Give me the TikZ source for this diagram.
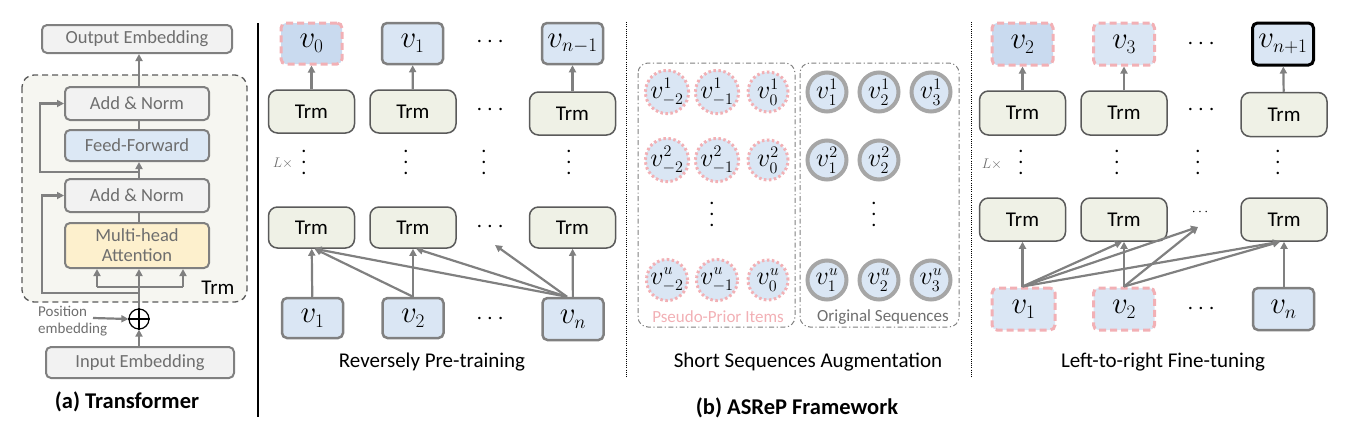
\RequirePackage{fix-cm}
\documentclass[tikz,border=0pt]{standalone}
\usepackage{fontspec}
\setmainfont{Carlito}
\renewcommand\defaultscriptratio{.62}
\usetikzlibrary{arrows.meta}
\definecolor{lg}{HTML}{808080}
\definecolor{dg}{HTML}{5A5A5A}
\definecolor{txg}{HTML}{6E6E6E}
\definecolor{boxg}{HTML}{F2F2F2}
\definecolor{trmf}{HTML}{EFF1E6}
\definecolor{bluef}{HTML}{DAE6F4}
\definecolor{blued}{HTML}{C9DAEF}
\definecolor{ffb}{HTML}{DCE8F5}
\definecolor{mhy}{HTML}{FDF0CD}
\definecolor{bgtrm}{HTML}{F6F6F1}
\definecolor{pinkc}{HTML}{F2B0B5}
\definecolor{cgray}{HTML}{A6A6A6}
\begin{document}
\begin{tikzpicture}[x=1pt,y=-1pt,
  arr/.style={draw=lg, line width=2.2pt, -{Triangle[length=7pt,width=7pt]}},
  ln/.style={draw=lg, line width=2.2pt},
  ablock/.style={draw=lg, line width=2pt, rounded corners=5pt, fill=boxg, minimum width=144pt, minimum height=33pt, inner sep=0pt, font=\fontsize{18.5}{19}\selectfont, text=txg},
  trmnode/.style={draw=dg, line width=1.5pt, rounded corners=9pt, fill=trmf, minimum width=86pt, minimum height=43pt, inner sep=0pt, font=\fontsize{21}{24}\selectfont},
  vbox/.style={draw=lg, line width=2.5pt, rounded corners=5pt, fill=bluef, minimum width=61pt, minimum height=41pt, inner sep=0pt, font=\fontsize{31}{33}\selectfont},
  vpink/.style={vbox, draw=pinkc, dash pattern=on 7pt off 4pt, line width=3pt},
  pcirc/.style={circle, minimum size=40pt, inner sep=0pt, fill=bluef, draw=pinkc, line width=3pt, dash pattern=on 2.5pt off 2.5pt, font=\fontsize{26}{28}\selectfont},
  ocirc/.style={circle, minimum size=39pt, inner sep=0pt, fill=bluef, draw=cgray, line width=4pt, font=\fontsize{26}{28}\selectfont},
  hdot/.style={font=\fontsize{24}{26}\selectfont, inner sep=0pt},
  vdot/.style={font=\fontsize{20}{11}\selectfont, inner sep=0pt, align=center},
  lx/.style={font=\fontsize{14}{16}\selectfont, text=txg, inner sep=0pt},
  captext/.style={font=\fontsize{21}{24}\selectfont, inner sep=0pt},
  bcaptext/.style={font=\fontsize{22.5}{26}\selectfont\bfseries, inner sep=0pt},
  dashdot/.style={draw=lg, line width=1pt, dash pattern=on 5pt off 2.5pt on 1.2pt off 2.5pt, rounded corners=10pt}
]
\useasboundingbox (0,0) rectangle (1347,432);
% ================= (a) Transformer =================
\draw[draw=dg, line width=1.3pt, dash pattern=on 6pt off 4pt, fill=bgtrm, rounded corners=12pt] (22,75) rectangle (247,302);
\node[ablock, minimum width=190pt, minimum height=28pt] (outemb) at (137,39) {Output Embedding};
\node[ablock] (an2) at (137,103.5) {Add \& Norm};
\node[ablock, fill=ffb, minimum height=31pt] (ff) at (137,145.5) {Feed-Forward};
\node[ablock] (an1) at (137,195.5) {Add \& Norm};
\node[ablock, fill=mhy, minimum height=45pt, align=center, font=\fontsize{18.5}{20}\selectfont] (mha) at (137,245.5) {Multi-head\\Attention};
\node[circle, draw=black, line width=1.2pt, minimum size=20pt, inner sep=0pt] (plus) at (139,319) {};
\draw[line width=1.2pt] (plus.north) -- (plus.south) (plus.west) -- (plus.east);
\node[ablock, minimum width=188pt, minimum height=31pt] (inemb) at (140,362.5) {Input Embedding};
\node[font=\fontsize{21}{24}\selectfont, inner sep=0pt] (trmlab) at (218,288) {Trm};
\node[font=\fontsize{15}{17}\selectfont, text=txg, align=left, inner sep=0pt, anchor=west] (posemb) at (38,321) {Position\\embedding};
\coordinate (posend) at (93,318);
\coordinate (spl) at (97,287);
\coordinate (spr) at (183,287);
\coordinate (r1) at (139,293);
\coordinate (r2) at (139,172);
\draw[arr] (inemb.north -| plus.south) -- (plus.south);
\draw[arr] (posend) -- (plus.west);
\draw[arr] (plus.north) -- (plus.north |- mha.south);
\draw[ln] (spl) -- (spr);
\draw[arr] (spl) -- (spl |- mha.south);
\draw[arr] (spr) -- (spr |- mha.south);
\draw[arr] (r1) -- ++(-97,0) |- (an1.west);
\draw[ln] (mha.north -| plus.north) -- (an1.south -| plus.north);
\draw[arr] (an1.north -| plus.north) -- (ff.south -| plus.north);
\draw[arr] (r2) -- ++(-99,0) |- (an2.west);
\draw[ln] (ff.north -| plus.north) -- (an2.south -| plus.north);
\draw[arr] (an2.north -| plus.north) -- (outemb.south -| plus.north);
\node[bcaptext] (capa) at (127,402) {(a) Transformer};
\draw[line width=1.5pt] (258,23) -- (258,417);
% ================= Reversely Pre-training =================
\node[vpink, fill=blued] (p0) at (311.5,43.5) {$v_0$};
\node[vbox] (p1) at (412.5,43.5) {$v_1$};
\node[vbox] (pn1) at (572.5,43.5) {$v_{n-1}$};
\node[hdot] (pd1) at (490,42) {$\cdots$};
\node[trmnode] (pt1) at (311.5,111.5) {Trm};
\node[trmnode] (pt2) at (413,111.5) {Trm};
\node[trmnode] (pt3) at (572.5,113.5) {Trm};
\node[hdot] (pd2) at (490,110) {$\cdots$};
\node[lx] (plx) at (283,163) {$L\times$};
\node[vdot] (pv1) at (304,162) {.\\.\\.};
\node[vdot] (pv2) at (406,162) {.\\.\\.};
\node[vdot] (pv3) at (484,162) {.\\.\\.};
\node[vdot] (pv4) at (569,162) {.\\.\\.};
\node[trmnode, minimum height=41pt] (pb1) at (311.5,227.5) {Trm};
\node[trmnode, minimum height=41pt] (pb2) at (413,227.5) {Trm};
\node[trmnode, minimum height=41pt] (pb3) at (572.5,227.5) {Trm};
\node[hdot] (pd3) at (490,227) {$\cdots$};
\coordinate (pdt) at (495,245);
\node[vbox, minimum height=40pt] (q1) at (312.5,318) {$v_1$};
\node[vbox, minimum height=40pt] (q2) at (413,318) {$v_2$};
\node[vbox, minimum height=42pt] (qn) at (573,319) {$v_n$};
\node[hdot] (pd4) at (490,319) {$\cdots$};
\draw[arr] (pt1) -- (p0);
\draw[arr] (pt2) -- (p1);
\draw[arr] (pt3) -- (pn1);
\draw[arr] (q1) -- (pb1);
\draw[arr] (q2) -- (pb2);
\draw[arr] (qn) -- (pb3);
\draw[arr] (q2.north) -- ([xshift=3pt]pb1.south);
\draw[arr] ([xshift=-6pt]qn.north) -- ([xshift=3pt]pb1.south);
\draw[arr] ([xshift=-6pt]qn.north) -- ([xshift=3pt]pb2.south);
\draw[arr] ([xshift=-6pt]qn.north) -- (pdt);
\node[captext] (capb1) at (432,362) {Reversely Pre-training};
% ================= Short Sequences Augmentation =================
\draw[line width=1pt, dash pattern=on 1pt off 1.2pt] (626,22) -- (626,377);
\draw[dashdot] (638,63) rectangle (795,327);
\draw[dashdot] (800,63) rectangle (959,327);
\node[pcirc] (a11) at (667,92) {$v^1_{-2}$};
\node[pcirc] (a12) at (717,92) {$v^1_{-1}$};
\node[pcirc] (a13) at (768,92) {$v^1_{0}$};
\node[pcirc] (a21) at (667,160) {$v^2_{-2}$};
\node[pcirc] (a22) at (717,160) {$v^2_{-1}$};
\node[pcirc] (a23) at (768,160) {$v^2_{0}$};
\node[pcirc] (a31) at (667,280) {$v^u_{-2}$};
\node[pcirc] (a32) at (717,280) {$v^u_{-1}$};
\node[pcirc] (a33) at (768,280) {$v^u_{0}$};
\node[vdot] (av) at (712,214) {.\\.\\.};
\node[ocirc] (o11) at (827,92) {$v^1_{1}$};
\node[ocirc] (o12) at (879,92) {$v^1_{2}$};
\node[ocirc] (o13) at (931,92) {$v^1_{3}$};
\node[ocirc] (o21) at (827,160) {$v^2_{1}$};
\node[ocirc] (o22) at (879,160) {$v^2_{2}$};
\node[ocirc] (o31) at (827,280) {$v^u_{1}$};
\node[ocirc] (o32) at (879,280) {$v^u_{2}$};
\node[ocirc] (o33) at (931,280) {$v^u_{3}$};
\node[vdot] (ov) at (874,214) {.\\.\\.};
\node[font=\fontsize{17}{19}\selectfont, text=pinkc, inner sep=0pt] (pplab) at (718,317) {Pseudo-Prior Items};
\node[font=\fontsize{17}{19}\selectfont, text=txg, inner sep=0pt] (oslab) at (883,317) {Original Sequences};
\node[captext] (capb2) at (808,362) {Short Sequences Augmentation};
\node[bcaptext] (capb) at (797,408) {(b) ASReP Framework};
% ================= Left-to-right Fine-tuning =================
\draw[line width=1pt, dash pattern=on 1pt off 1.2pt] (971,22) -- (971,377);
\node[vpink, fill=blued, minimum height=42pt] (f2) at (1022.5,44) {$v_2$};
\node[vpink, minimum height=42pt] (f3) at (1124,44) {$v_3$};
\node[vbox, draw=black, line width=3pt, minimum height=42pt] (fn1) at (1283,44) {$v_{n+1}$};
\node[hdot] (fd1) at (1201,44) {$\cdots$};
\node[trmnode, minimum height=44pt] (ft1) at (1022.5,113) {Trm};
\node[trmnode, minimum height=44pt] (ft2) at (1124,113) {Trm};
\node[trmnode, minimum height=44pt] (ft3) at (1284,114.5) {Trm};
\node[hdot] (fd2) at (1201,110) {$\cdots$};
\node[lx] (flx) at (992,164) {$L\times$};
\node[vdot] (fv1) at (1021,162) {.\\.\\.};
\node[vdot] (fv2) at (1117,162) {.\\.\\.};
\node[vdot] (fv3) at (1198,162) {.\\.\\.};
\node[vdot] (fv4) at (1278,162) {.\\.\\.};
\node[trmnode] (fb1) at (1022.5,219.5) {Trm};
\node[trmnode] (fb2) at (1124,219.5) {Trm};
\node[trmnode] (fb3) at (1284,219.5) {Trm};
\node[font=\fontsize{14}{16}\selectfont, inner sep=0pt] (fd3) at (1200,212) {$\cdots$};
\coordinate (fdt) at (1198,227);
\node[vpink, minimum width=63pt, minimum height=42pt] (g1) at (1023.5,309) {$v_1$};
\node[vpink, minimum height=42pt] (g2) at (1124,309) {$v_2$};
\node[vbox, minimum height=42pt] (gn) at (1283.5,309) {$v_n$};
\node[hdot] (fd4) at (1201,309) {$\cdots$};
\draw[arr] (ft1) -- (f2);
\draw[arr] (ft2) -- (f3);
\draw[arr] (ft3) -- (fn1);
\draw[arr] (g1.north -| fb1.south) -- (fb1.south);
\draw[arr] (g2.north -| fb2.south) -- (fb2.south);
\draw[arr] (gn.north -| fb3.south) -- (fb3.south);
\draw[arr] (g1.north -| fb1.south) -- ([xshift=-2pt]fb2.south);
\draw[arr] (g1.north -| fb1.south) -- (fdt);
\draw[arr] (g1.north -| fb1.south) -- ([xshift=-4pt]fb3.south);
\draw[arr] (g2.north -| fb2.south) -- (fdt);
\draw[arr] (g2.north -| fb2.south) -- ([xshift=-4pt]fb3.south);
\node[captext] (capb3) at (1163,362) {Left-to-right Fine-tuning};
\end{tikzpicture}
\end{document}
